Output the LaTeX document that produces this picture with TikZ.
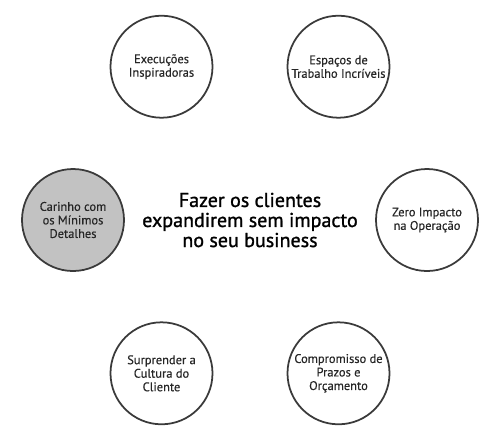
\documentclass[tikz,border=0pt]{standalone}
\usepackage{fontspec}
\setmainfont{PT Sans}
\newfontfamily\goalfont[FakeBold=1.2]{PT Sans}
\newfontfamily\bubblefont[FakeBold=0.4]{PT Sans}
\usetikzlibrary{positioning}
\definecolor{ringgray}{HTML}{3A3A3A}
\definecolor{softgray}{HTML}{C2C2C2}
\tikzset{
 bubble/.style={circle, draw=ringgray, line width=1pt, minimum size=2.04cm, inner sep=0pt, align=center, text=black!85, font=\bubblefont\fontsize{7.1}{7.7}\selectfont},
 goaltext/.style={align=center, text=black, font=\goalfont\fontsize{11.4}{11.4}\selectfont}
}

\begin{document}
\begin{tikzpicture}
 \useasboundingbox (-5,-4.42) rectangle (5,4.40);

 \node[goaltext] (goal) at (0,0) {Fazer os clientes\\expandirem sem impacto\\no seu business};

 \node[bubble] (inspire) at (120:3.54) {Execuções\\Inspiradoras};
 \node[bubble] (spaces) at (60:3.54) {Espaços de\\Trabalho Incríveis};
 \node[bubble] (zeroimp) at (0:3.54) {Zero Impacto\\na Operação};
 \node[bubble] (deadline) at (300:3.54) {Compromisso de\\Prazos e\\Orçamento};
 \node[bubble] (culture) at (240:3.54) {Surprender a\\Cultura do\\Cliente};
 \node[bubble, fill=softgray] (detail) at (180:3.54) {Carinho com\\os Mínimos\\Detalhes};
\end{tikzpicture}
\end{document}
